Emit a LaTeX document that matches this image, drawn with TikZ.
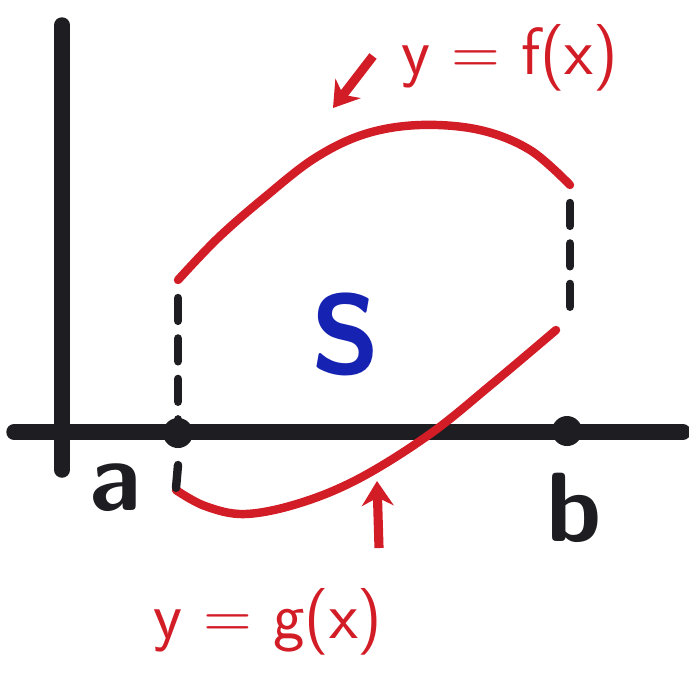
\documentclass[tikz,border=0pt]{standalone}
\usepackage{xcolor}
\usepackage{tikz}
\usetikzlibrary{arrows.meta,positioning,calc}

\definecolor{penred}{RGB}{210,28,38}
\definecolor{penblue}{RGB}{22,34,178}
\definecolor{penblack}{RGB}{30,30,34}

\begin{document}
\begin{tikzpicture}[x=0.01cm,y=-0.01cm,
    axis/.style={draw=penblack, line width=4.4pt, line cap=round},
    curve/.style={draw=penred, line width=2.4pt, line cap=round},
    guide/.style={draw=penblack, line width=2.4pt, dash pattern=on 6.5pt off 5pt, line cap=round},
    dot/.style={circle, fill=penblack, inner sep=0pt, minimum size=0.3cm},
    lbl/.style={font=\sffamily\fontsize{19}{21}\selectfont, inner sep=0pt},
    pointer/.style={draw=penred, line width=2.6pt, -{Stealth[length=7pt,width=9pt]}}
]
    \useasboundingbox (0,0) rectangle (689,675);

    % Axes
    \coordinate (ytop) at (62,25);
    \coordinate (ybot) at (62,470);
    \coordinate (xleft) at (14,432);
    \coordinate (xright) at (683,432);
    \draw[axis] (ytop) -- (ybot);
    \draw[axis] (xleft) -- (xright);

    % End points on the x-axis
    \node[dot] (A) at (178,433) {};
    \node[dot] (B) at (567,431) {};
    \node[lbl, text=penblack, font=\bfseries\sffamily\fontsize{28}{30}\selectfont] (alab) at (115,488) {a};
    \node[lbl, text=penblack, font=\bfseries\sffamily\fontsize{28}{30}\selectfont] (blab) at (574,508) {b};

    % Upper and lower curves
    \coordinate (fstart) at (178,280);
    \coordinate (fend) at (570,185);
    \coordinate (gstart) at (176,490);
    \coordinate (gend) at (556,330);
    \draw[curve] plot[smooth, tension=0.6] coordinates {(178,280) (218,238) (265,197) (315,158) (365,134) (420,125) (480,130) (530,150) (570,185)};
    \draw[curve] plot[smooth, tension=0.6] coordinates {(176,490) (205,506) (245,514) (300,503) (360,478) (430,434) (492,384) (556,330)};

    % Dashed verticals
    \draw[guide] ($(fstart)+(0,18)$) -- ($(A)+(0,-12)$);
    \draw[guide] ($(A)+(0,32)$) -- ($(gstart)+(0,-2)$);
    \draw[guide] ($(fend)+(0,18)$) -- ($(gend)+(14,-12)$);

    % Region label
    \node[font=\bfseries\sffamily\fontsize{32}{34}\selectfont, text=penblue, inner sep=0pt] (S) at (346,334) {S};

    % Curve labels with pointers
    \node[lbl, text=penred] (flab) at (510,58) {y = f(x)};
    \node[lbl, text=penred] (glab) at (268,622) {y = g(x)};
    \coordinate (ftip) at (333,108);
    \coordinate (ftail) at (373,56);
    \coordinate (gtip) at (377,481);
    \coordinate (gtail) at (379,548);
    \draw[pointer] (ftail) -- (ftip);
    \draw[pointer] (gtail) -- (gtip);
\end{tikzpicture}
\end{document}
